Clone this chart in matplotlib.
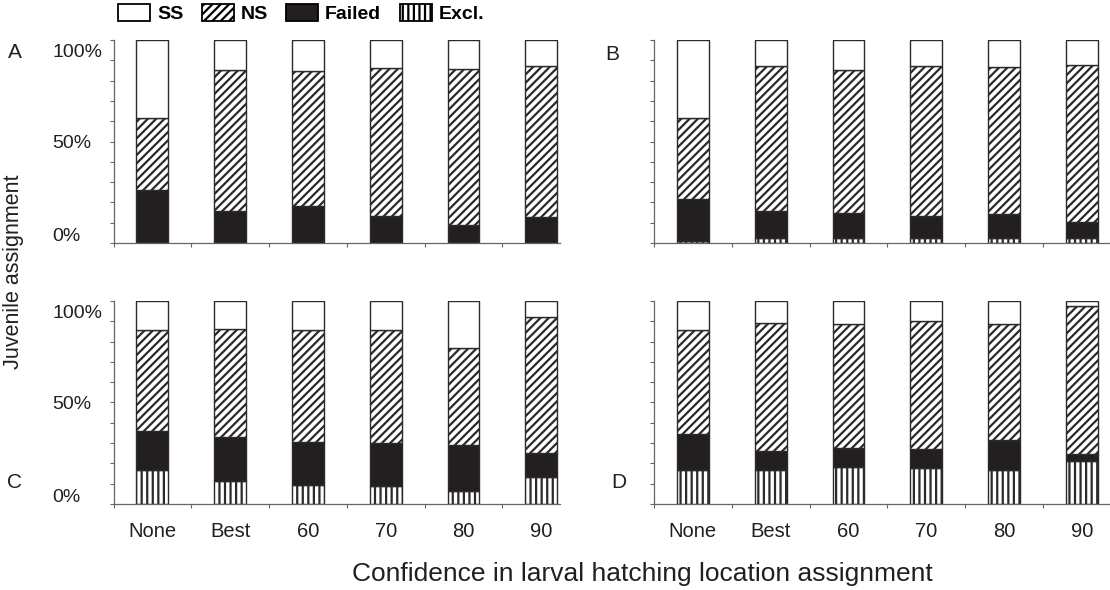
import matplotlib
matplotlib.use('Agg')
import matplotlib.pyplot as plt
import matplotlib.transforms as mtransforms
from matplotlib.patches import Patch
import numpy as np

plt.rcParams['font.family'] = ['Liberation Sans', 'DejaVu Sans']
plt.rcParams['hatch.linewidth'] = 1.6

categories = ['None', 'Best', '60', '70', '80', '90']

# percent of juveniles, per panel, per layer (stacked bottom to top)
excl_a = [0, 0, 0, 0, 0, 0]
failed_a = [26.0, 15.8, 18.1, 13.3, 9.0, 12.7]
ns_a = [35.7, 69.4, 66.8, 73.0, 76.9, 74.5]
ss_a = [38.3, 14.8, 15.1, 13.7, 14.1, 12.8]

excl_b = [1.0, 2.6, 2.6, 2.6, 2.6, 2.6]
failed_b = [20.9, 13.0, 12.2, 10.7, 11.9, 7.6]
ns_b = [39.6, 71.6, 70.4, 73.9, 72.3, 77.5]
ss_b = [38.5, 12.8, 14.8, 12.8, 13.2, 12.3]

excl_c = [16.8, 11.1, 9.5, 8.8, 6.5, 13.1]
failed_c = [19.3, 22.0, 21.2, 21.2, 22.5, 12.2]
ns_c = [49.5, 53.0, 54.9, 55.6, 47.8, 66.7]
ss_c = [14.4, 13.9, 14.4, 14.4, 23.2, 8.0]

excl_d = [16.5, 16.8, 18.1, 17.6, 16.8, 21.4]
failed_d = [18.2, 9.5, 9.3, 9.3, 14.7, 3.2]
ns_d = [50.9, 62.6, 61.3, 63.1, 57.2, 73.0]
ss_d = [14.4, 11.1, 11.3, 10.0, 11.3, 2.4]

panels = {
    'A': [excl_a, failed_a, ns_a, ss_a],
    'B': [excl_b, failed_b, ns_b, ss_b],
    'C': [excl_c, failed_c, ns_c, ss_c],
    'D': [excl_d, failed_d, ns_d, ss_d],
}

layer_names = ['Excl.', 'Failed', 'NS', 'SS']
layer_style = {
    'SS': dict(facecolor='white'),
    'NS': dict(facecolor='white', hatch='////'),
    'Failed': dict(facecolor='#231f20'),
    'Excl.': dict(facecolor='white', hatch='|||'),
}
edge = '#2a2a2a'
axis_grey = '#666666'
text_col = '#231f20'

fig = plt.figure(figsize=(11.1, 5.9), dpi=100)

# axes boxes in figure fractions
boxes = {
    'A': [0.1023, 0.5881, 0.4022, 0.3441],
    'B': [0.5892, 0.5881, 0.4108, 0.3441],
    'C': [0.1023, 0.1458, 0.4022, 0.3441],
    'D': [0.5892, 0.1458, 0.4108, 0.3441],
}
xmax = {'A': 5.24, 'B': 5.36, 'C': 5.24, 'D': 5.36}

x = np.arange(len(categories))
for key, layers in panels.items():
    ax = fig.add_axes(boxes[key])
    bottom = np.zeros(len(categories))
    for name, vals in zip(layer_names, layers):
        vals = np.array(vals)
        ax.bar(x, vals, width=0.41, bottom=bottom, edgecolor=edge,
               linewidth=1.0, **layer_style[name])
        bottom += vals

    ax.set_xlim(-0.5, xmax[key])
    ax.set_ylim(0, 100)
    for s in ['top', 'right']:
        ax.spines[s].set_visible(False)
    for s in ['left', 'bottom']:
        ax.spines[s].set_color(axis_grey)
        ax.spines[s].set_linewidth(0.9)

    # y ticks every 10%, labels only at 0/50/100 on the left panels
    yt = np.arange(0, 101, 10)
    ax.set_yticks(yt)
    if key in ('A', 'C'):
        ax.set_yticklabels(['%d%%' % v if v % 50 == 0 else '' for v in yt])
        for lab in ax.get_yticklabels():
            lab.set_horizontalalignment('left')
    else:
        ax.set_yticklabels([])
    ax.tick_params(axis='y', direction='out', length=3, width=0.8,
                   color=axis_grey, pad=41.3, labelsize=14,
                   labelcolor=text_col)
    if key in ('A', 'C'):
        # labels sit slightly inside the 0..100 range in the original
        ticks = ax.yaxis.get_major_ticks()
        for t, dy in ((ticks[0], 6), (ticks[-1], -7.5)):
            off = mtransforms.ScaledTranslation(0, dy / 72, fig.dpi_scale_trans)
            t.label1.set_transform(t.label1.get_transform() + off)

    # x ticks on category boundaries, labels at centers
    ax.set_xticks(np.arange(-0.5, 5, 1))
    ax.set_xticklabels([])
    ax.set_xticks(x, minor=True)
    if key in ('C', 'D'):
        ax.set_xticklabels(categories, minor=True)
    ax.tick_params(axis='x', which='major', direction='out', length=3,
                   width=0.8, color=axis_grey)
    ax.tick_params(axis='x', which='minor', length=0, pad=13,
                   labelsize=14.5, labelcolor=text_col)

# panel letters
fig.text(15 / 1110, 1 - 52 / 590, 'A', fontsize=15, ha='center', va='center', color=text_col)
fig.text(612 / 1110, 1 - 55 / 590, 'B', fontsize=15, ha='center', va='center', color=text_col)
fig.text(15 / 1110, 1 - 483 / 590, 'C', fontsize=15, ha='center', va='center', color=text_col)
fig.text(619 / 1110, 1 - 483 / 590, 'D', fontsize=15, ha='center', va='center', color=text_col)

fig.text(14 / 1110, 1 - 272 / 590, 'Juvenile assignment', rotation=90,
         fontsize=15.5, ha='center', va='center', color=text_col)
fig.text(642 / 1110, 1 - 574 / 590, 'Confidence in larval hatching location assignment',
         fontsize=19, ha='center', va='center', color=text_col)

# legend
legend_order = ['SS', 'NS', 'Failed', 'Excl.']
handles = [Patch(edgecolor='black', linewidth=1.3, label=n, **layer_style[n])
           for n in legend_order]
fig.legend(handles=handles, loc='upper left', bbox_to_anchor=(118 / 1110, 1 - 4 / 590),
           ncol=4, frameon=False, borderpad=0, borderaxespad=0,
           handlelength=1.65, handleheight=0.98, handletextpad=0.35,
           columnspacing=0.95, prop={'weight': 'bold', 'size': 14})

fig.savefig('out.png', dpi=100)
